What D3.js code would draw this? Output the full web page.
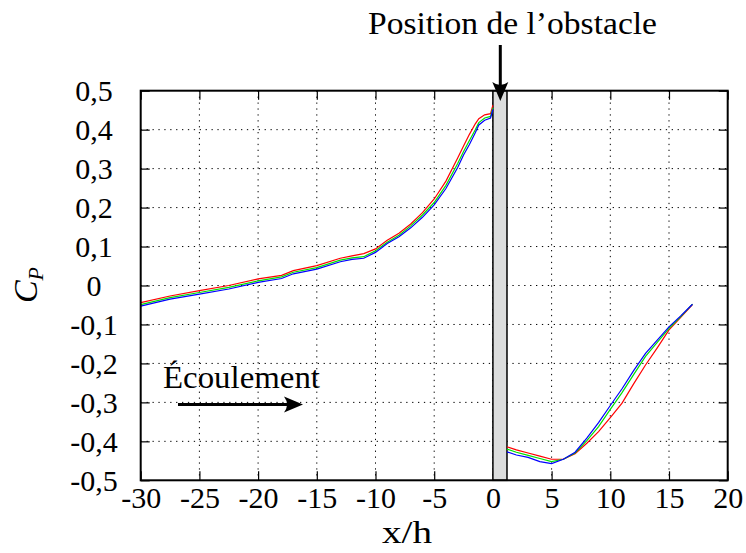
<!DOCTYPE html>
<html><head><meta charset="utf-8">
<script src="https://cdn.jsdelivr.net/npm/d3@7"></script>
</head>
<body style="margin:0;background:#fff">
<svg id="c" width="746" height="553"></svg>
<script>
const xTicks = [-30,-25,-20,-15,-10,-5,0,5,10,15,20];
const xTickLabels = ["-30","-25","-20","-15","-10","-5","0","5","10","15","20"];
const yTicks = [-0.5,-0.4,-0.3,-0.2,-0.1,0,0.1,0.2,0.3,0.4,0.5];
const yTickLabels = ["-0,5","-0,4","-0,3","-0,2","-0,1","0","0,1","0,2","0,3","0,4","0,5"];

const obstacle = [0, 1.2];

const xUp = [-30,-27.5,-25,-22.5,-20,-18,-17,-15,-13,-12,-11,-10,-9,-8,-7,-6,-5,-4,-3,-2.5,-2,-1.5,-1.2,-0.7,-0.2,0];
const blueUp = [-0.053,-0.035,-0.022,-0.009,0.008,0.018,0.030,0.042,0.061,0.067,0.070,0.085,0.108,0.125,0.148,0.175,0.207,0.249,0.303,0.335,0.362,0.392,0.412,0.424,0.430,0.452];
const greenUp = [-0.049,-0.031,-0.018,-0.005,0.012,0.022,0.034,0.046,0.065,0.071,0.074,0.089,0.111,0.129,0.153,0.181,0.213,0.257,0.313,0.344,0.372,0.400,0.418,0.430,0.434,0.456];
const redUp = [-0.044,-0.027,-0.013,0.000,0.017,0.026,0.038,0.051,0.070,0.076,0.082,0.094,0.116,0.134,0.158,0.187,0.222,0.268,0.327,0.358,0.388,0.415,0.428,0.438,0.441,0.463];

const xDown = [1.2,2,3,4,5,6,7,8,9,10,11,12,13,14,15,16,17];
const blueDown = [-0.427,-0.435,-0.441,-0.452,-0.457,-0.446,-0.428,-0.392,-0.352,-0.308,-0.265,-0.218,-0.174,-0.140,-0.106,-0.078,-0.048];
const greenDown = [-0.420,-0.428,-0.436,-0.444,-0.452,-0.446,-0.430,-0.398,-0.362,-0.318,-0.275,-0.228,-0.182,-0.146,-0.110,-0.080,-0.048];
const redDown = [-0.414,-0.422,-0.430,-0.438,-0.446,-0.446,-0.432,-0.405,-0.375,-0.339,-0.302,-0.252,-0.204,-0.160,-0.114,-0.082,-0.049];

const series = [
  {color:"#ff0000", up:redUp, down:redDown},
  {color:"#00e000", up:greenUp, down:greenDown},
  {color:"#0000ff", up:blueUp, down:blueDown}
];

const FONT = "Liberation Serif";
const L=140.7, R=727.7, T=90.7, B=480.3;
const svg = d3.select("#c");
const x = d3.scaleLinear().domain([-30,20]).range([L,R]);
const y = d3.scaleLinear().domain([-0.5,0.5]).range([B,T]);

// grid
const grid = svg.append("g").attr("stroke","#000").attr("stroke-width",1).attr("stroke-dasharray","1.3,4.6");
grid.selectAll("line.gx").data(xTicks.slice(1,-1)).join("line")
  .attr("x1",d=>x(d)).attr("x2",d=>x(d)).attr("y1",T).attr("y2",B);
grid.selectAll("line.gy").data(yTicks.slice(1,-1)).join("line")
  .attr("y1",d=>y(d)).attr("y2",d=>y(d)).attr("x1",L).attr("x2",R);

// axes with inner ticks
const fmtX = d=>xTickLabels[xTicks.indexOf(d)];
const fmtY = d=>yTickLabels[yTicks.indexOf(d)];
const axB = svg.append("g").attr("transform",`translate(0,${B})`)
  .call(d3.axisBottom(x).tickValues(xTicks).tickFormat(fmtX).tickSizeInner(-9).tickSizeOuter(0));
const axT = svg.append("g").attr("transform",`translate(0,${T})`)
  .call(d3.axisTop(x).tickValues(xTicks).tickFormat("").tickSizeInner(-9).tickSizeOuter(0));
const axL = svg.append("g").attr("transform",`translate(${L},0)`)
  .call(d3.axisLeft(y).tickValues(yTicks).tickFormat(fmtY).tickSizeInner(-9).tickSizeOuter(0));
const axR = svg.append("g").attr("transform",`translate(${R},0)`)
  .call(d3.axisRight(y).tickValues(yTicks).tickFormat("").tickSizeInner(-9).tickSizeOuter(0));
[axB,axT,axL,axR].forEach(a=>{a.attr("font-family",FONT); a.select(".domain").remove(); a.selectAll("line").attr("stroke","#000").attr("stroke-width",1.2);});
axB.selectAll("text").attr("font-family",FONT).attr("font-size",30).attr("dy",null).attr("y",28);
axL.selectAll("text").attr("font-family",FONT).attr("font-size",30).attr("text-anchor","middle").attr("x",94-L).attr("dy","0.34em");

// obstacle
svg.append("rect").attr("x",x(obstacle[0])).attr("y",T).attr("width",x(obstacle[1])-x(obstacle[0])).attr("height",B-T)
  .attr("fill","#dcdddd").attr("stroke","#000").attr("stroke-width",1.5);

// lines
const line = d3.line().x(d=>x(d[0])).y(d=>y(d[1]));
series.forEach(s=>{
  svg.append("path").datum(xUp.map((v,i)=>[v,s.up[i]])).attr("d",line).attr("fill","none").attr("stroke",s.color).attr("stroke-width",1.2);
  svg.append("path").datum(xDown.map((v,i)=>[v,s.down[i]])).attr("d",line).attr("fill","none").attr("stroke",s.color).attr("stroke-width",1.2);
});

// frame
svg.append("rect").attr("x",L).attr("y",T).attr("width",R-L).attr("height",B-T).attr("fill","none").attr("stroke","#000").attr("stroke-width",2);

// labels
svg.append("text").attr("font-family",FONT).attr("x",368).attr("y",34).attr("font-size",32)
  .attr("textLength",289).attr("lengthAdjust","spacingAndGlyphs").text("Position de l’obstacle");
svg.append("text").attr("font-family",FONT).attr("x",382).attr("y",543).attr("font-size",32)
  .attr("textLength",50).attr("lengthAdjust","spacingAndGlyphs").text("x/h");
svg.append("text").attr("font-family",FONT).attr("x",163).attr("y",388).attr("font-size",32)
  .attr("textLength",157).attr("lengthAdjust","spacingAndGlyphs").text("Écoulement");
const cp = svg.append("text").attr("font-family",FONT).attr("transform","translate(37,285) rotate(-90)").attr("text-anchor","middle").attr("font-size",34);
cp.append("tspan").attr("font-style","italic").text("C");
cp.append("tspan").attr("font-style","italic").attr("font-size",22).attr("dy",6).text("P");

// arrows
function arrow(x1,y1,x2,y2){
  const ang = Math.atan2(y2-y1,x2-x1);
  const g = svg.append("g").attr("transform",`translate(${x2},${y2}) rotate(${ang*180/Math.PI})`);
  const len = Math.hypot(x2-x1,y2-y1);
  g.append("line").attr("x1",-len).attr("y1",0).attr("x2",-10).attr("y2",0).attr("stroke","#000").attr("stroke-width",3);
  g.append("path").attr("d","M0,0 L-19,-8 Q-13,0 -19,8 Z").attr("fill","#000");
}
arrow(500.3,45,500.3,101);
arrow(178,404.5,303,404.5);
</script></body></html>
